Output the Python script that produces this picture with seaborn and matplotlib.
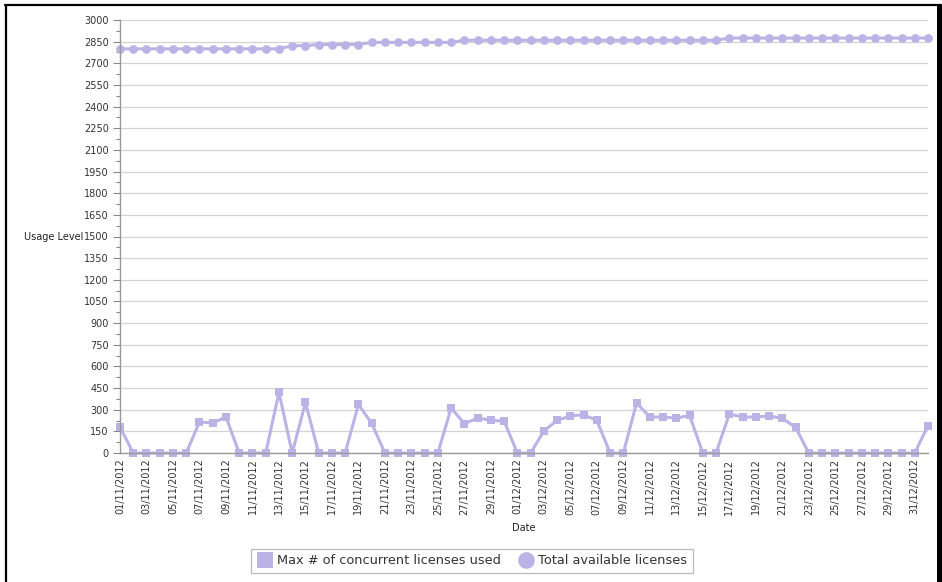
import matplotlib
matplotlib.use("Agg")
import matplotlib.pyplot as plt
import seaborn as sns
import pandas as pd
import numpy as np
from matplotlib.lines import Line2D
from matplotlib.patches import Rectangle

dates = list(pd.date_range("2012-11-01", "2013-01-01", freq="D").strftime("%d/%m/%Y"))

max_used = [180, 0, 0, 0, 0, 0, 215, 208, 250, 0, 0, 0, 420, 0, 350, 0, 0, 0,
            337, 205, 0, 0, 0, 0, 0, 312, 203, 243, 227, 220, 0, 0, 152, 226,
            257, 265, 226, 0, 0, 347, 249, 249, 242, 260, 0, 0, 270, 249, 249,
            257, 240, 178, 0, 0, 0, 0, 0, 0, 0, 0, 0, 190]

total_avail = ([2800] * 13 + [2822] * 2 + [2830] * 4 + [2845] * 7 +
               [2860] * 20 + [2875] * 16)

series_names = ["Max # of concurrent licenses used", "Total available licenses"]
y_ticks = list(range(0, 3001, 150))

sns.set_theme(style="white")
plt.rcParams["font.family"] = ["DejaVu Sans"]

color = "#bbb3e6"
W, H = 942, 582
fig = plt.figure(figsize=(W / 100, H / 100), dpi=100)
ax = fig.add_axes([120 / W, 1 - 453 / H, (928 - 120) / W, (453 - 20) / H])

df = pd.DataFrame({
    "idx": np.arange(len(dates)),
    "date": dates,
    "used": max_used,
    "total": total_avail,
})

sns.lineplot(data=df, x="idx", y="used", ax=ax, color=color, lw=2.2,
             marker="s", markersize=5.6, markeredgewidth=0, clip_on=False)
sns.lineplot(data=df, x="idx", y="total", ax=ax, color=color, lw=2.2,
             marker="o", markersize=6.3, markeredgewidth=0, clip_on=False)

ax.set_xlim(0, len(dates) - 1)
ax.set_ylim(0, 3000)
ax.set_yticks(y_ticks)
ax.set_yticklabels([str(v) for v in y_ticks], fontsize=7, color="#333333")
ax.set_yticks(np.arange(75, 3000, 150), minor=True)
ax.tick_params(axis="y", which="major", length=5, width=0.8, color="#888888", pad=3, left=True)
ax.tick_params(axis="y", which="minor", length=3, width=0.8, color="#888888", left=True)

xt = list(range(0, len(dates), 2))
ax.set_xticks(xt)
ax.set_xticklabels([dates[i] for i in xt], rotation=90, fontsize=7, color="#333333")
ax.tick_params(axis="x", length=0, pad=4)

ax.grid(axis="y", which="major", color="#d3d3d3", lw=0.9)
ax.set_axisbelow(True)
for s in ["top", "right"]:
    ax.spines[s].set_visible(False)
for s in ["left", "bottom"]:
    ax.spines[s].set_color("#999999")
    ax.spines[s].set_linewidth(1.0)

ax.set_ylabel("Usage Level", rotation=0, fontsize=7, color="#222222", ha="center", va="center")
ax.yaxis.set_label_coords(-0.082, 0.5)
ax.set_xlabel("Date", fontsize=7, color="#222222", labelpad=6)

handles = [Line2D([], [], ls="none", marker="s", markersize=11, color=color, markeredgewidth=0),
           Line2D([], [], ls="none", marker="o", markersize=12, color=color, markeredgewidth=0)]
leg = fig.legend(handles, series_names, loc="center", bbox_to_anchor=(472 / W, 1 - 561 / H),
                 ncol=2, frameon=True, fontsize=9.3, fancybox=False, edgecolor="#aaaaaa",
                 handletextpad=0.35, columnspacing=1.3, borderpad=0.45, handlelength=1.2)
leg.get_frame().set_linewidth(0.9)
for t in leg.get_texts():
    t.set_color("#333333")

# outer screenshot border
fig.add_artist(Line2D([6 / W, 6 / W], [0, 1 - 5 / H], transform=fig.transFigure, color="black", lw=1.6))
fig.add_artist(Line2D([5 / W, 1], [1 - 5 / H, 1 - 5 / H], transform=fig.transFigure, color="black", lw=1.6))
fig.add_artist(Rectangle((937 / W, 0), 5 / W, 1 - 4 / H, transform=fig.transFigure,
                         facecolor="black", edgecolor="none"))

fig.savefig("out.png", dpi=100)
